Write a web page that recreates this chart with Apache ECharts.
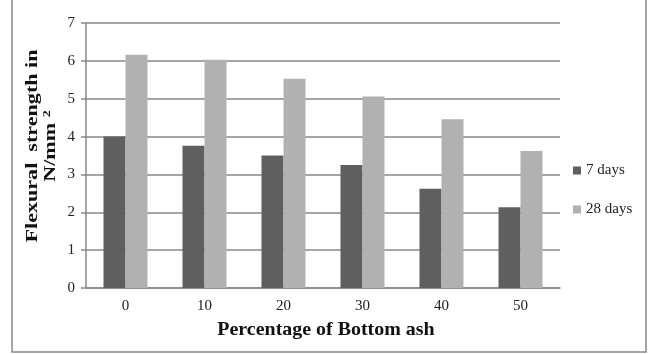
<!DOCTYPE html>
<html>
<head>
<meta charset="utf-8">
<script src="https://cdn.jsdelivr.net/npm/echarts@6/dist/echarts.min.js"></script>
<style>
html, body { margin: 0; padding: 0; background: #fff; }
#chart { width: 654px; height: 354px; }
</style>
</head>
<body>
<div id="chart"></div>
<script>
// 底灰掺量(%)
var categories = ['0', '10', '20', '30', '40', '50'];
// 7天抗折强度
var days7 = [4.0, 3.76, 3.5, 3.25, 2.62, 2.13];
// 28天抗折强度
var days28 = [6.16, 6.03, 5.53, 5.06, 4.46, 3.62];
var yTicks = [0, 1, 2, 3, 4, 5, 6, 7];

var font = 'Liberation Serif';
var chart = echarts.init(document.getElementById('chart'));

var option = {
	animation: false,
	backgroundColor: '#fff',
	textStyle: { fontFamily: font },
	grid: {
		left: 86,
		right: 94,
		top: 23,
		bottom: 66
	},
	legend: {
		orient: 'vertical',
		left: 568,
		top: 158,
		itemWidth: 8,
		itemHeight: 8,
		itemGap: 24,
		icon: 'rect',
		textStyle: { fontFamily: font, fontSize: 15, color: '#222' },
		data: ['7 days', '28 days']
	},
	xAxis: {
		type: 'category',
		data: categories,
		axisLine: { lineStyle: { color: '#888', width: 1.5 } },
		axisTick: { show: false },
		axisLabel: { fontFamily: font, fontSize: 15, color: '#222', margin: 11 }
	},
	yAxis: {
		type: 'value',
		min: yTicks[0],
		max: yTicks[yTicks.length - 1],
		interval: 1,
		axisLine: { show: true, lineStyle: { color: '#888', width: 1.5 } },
		axisTick: { show: true, length: 5, lineStyle: { color: '#888', width: 1.5 } },
		axisLabel: { fontFamily: font, fontSize: 15, color: '#222', margin: 11 },
		splitLine: { lineStyle: { color: '#888', width: 1.5 } }
	},
	series: [{
		name: '7 days',
		type: 'bar',
		data: days7,
		barWidth: 22,
		barGap: '0%',
		itemStyle: { color: '#5f5f5f' }
	}, {
		name: '28 days',
		type: 'bar',
		data: days28,
		barWidth: 22,
		itemStyle: { color: '#b1b1b1' }
	}],
	graphic: [{
		type: 'rect',
		shape: { x: 12, y: -2, width: 634, height: 354 },
		style: { fill: 'none', stroke: '#888', lineWidth: 1.5 },
		silent: true
	}, {
		// x轴标题
		type: 'text',
		x: 326,
		y: 330,
		scaleX: 1.05,
		style: {
			text: 'Percentage of Bottom ash',
			align: 'center',
			verticalAlign: 'middle',
			fontFamily: font,
			fontSize: 19,
			fontWeight: 'bold',
			fill: '#111'
		}
	}, {
		// y轴标题
		type: 'text',
		x: 42,
		y: 146,
		rotation: Math.PI / 2,
		scaleX: 1.3,
		style: {
			text: 'Flexural  strength in\n{m|N/mm }{s|2}',
			align: 'center',
			verticalAlign: 'middle',
			fontFamily: font,
			fontSize: 17,
			fontWeight: 'bold',
			fill: '#111',
			lineHeight: 18,
			rich: {
				m: { fontFamily: font, fontSize: 17, fontWeight: 'bold', fill: '#111', lineHeight: 18 },
				s: { fontFamily: font, fontSize: 11, fontWeight: 'bold', fill: '#111', verticalAlign: 'top', lineHeight: 18 }
			}
		}
	}]
};
chart.setOption(option);
</script>
</body>
</html>
